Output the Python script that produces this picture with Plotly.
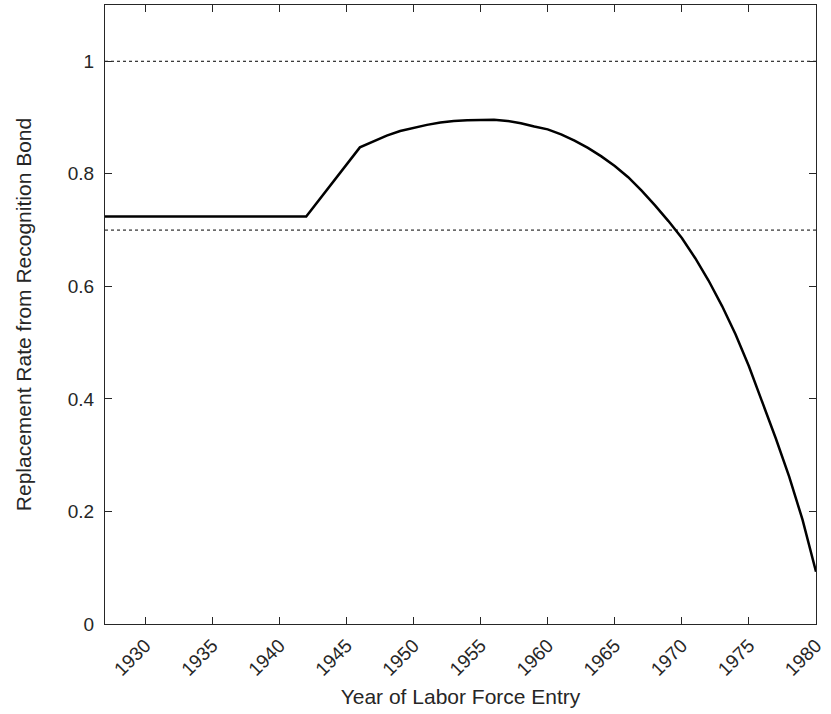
import plotly.graph_objects as go

years = [1927, 1942, 1946, 1947, 1948, 1949, 1950, 1951, 1952, 1953, 1954, 1955,
         1956, 1957, 1958, 1959, 1960, 1961, 1962, 1963, 1964, 1965, 1966, 1967,
         1968, 1969, 1970, 1971, 1972, 1973, 1974, 1975, 1976, 1977, 1978, 1979, 1980]
rate = [0.724, 0.724, 0.847, 0.858, 0.868, 0.876, 0.882, 0.887, 0.891, 0.894, 0.895, 0.896,
        0.896, 0.894, 0.890, 0.884, 0.879, 0.870, 0.859, 0.846, 0.831, 0.814, 0.794, 0.770,
        0.744, 0.716, 0.686, 0.650, 0.610, 0.565, 0.515, 0.458, 0.395, 0.330, 0.262, 0.185, 0.093]

ref_levels = [1.0, 0.7]
x_range = [1927, 1980]
y_range = [0, 1.1]
x_ticks = [1930, 1935, 1940, 1945, 1950, 1955, 1960, 1965, 1970, 1975, 1980]
y_ticks = [0, 0.2, 0.4, 0.6, 0.8, 1]
y_tick_text = ["0", "0.2", "0.4", "0.6", "0.8", "1"]

fig = go.Figure()
for lvl in ref_levels:
    fig.add_trace(go.Scatter(x=x_range, y=[lvl, lvl], mode="lines",
                             line=dict(color="black", width=1, dash="dot"),
                             showlegend=False, hoverinfo="skip"))
fig.add_trace(go.Scatter(x=years, y=rate, mode="lines",
                         line=dict(color="black", width=2.5),
                         showlegend=False))

axis_color = "#262626"
font_family = "Liberation Sans, Arial, Helvetica, sans-serif"
fig.update_layout(
    width=831, height=714,
    margin=dict(l=105, r=15, t=5, b=90),
    paper_bgcolor="white", plot_bgcolor="white",
    font=dict(family=font_family, color=axis_color, size=19),
    xaxis=dict(range=x_range, tickvals=x_ticks, ticktext=[str(t) for t in x_ticks],
               tickangle=-45, ticks="inside", ticklen=7, tickcolor=axis_color,
               ticklabelstandoff=2,
               showline=True, linecolor=axis_color, linewidth=1, mirror="ticks",
               showgrid=False, zeroline=False,
               tickfont=dict(size=19, color=axis_color),
               title=dict(text="Year of Labor Force Entry", font=dict(size=21, color=axis_color),
                          standoff=10)),
    yaxis=dict(range=y_range, tickvals=y_ticks, ticktext=y_tick_text,
               ticks="inside", ticklen=7, tickcolor=axis_color,
               ticklabelstandoff=6,
               showline=True, linecolor=axis_color, linewidth=1, mirror="ticks",
               showgrid=False, zeroline=False,
               tickfont=dict(size=19, color=axis_color),
               title=dict(text="Replacement Rate from Recognition Bond",
                          font=dict(size=21, color=axis_color), standoff=30)),
)
fig.write_html("out.html", config={"displayModeBar": False},
               post_script="document.body.style.margin='0';")
